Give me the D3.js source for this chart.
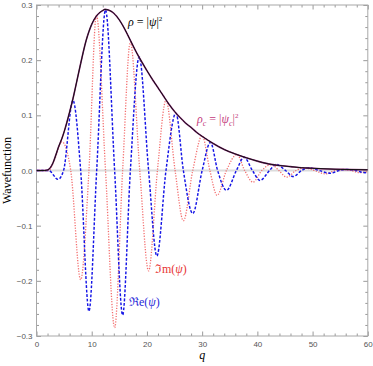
<!DOCTYPE html>
<html><head><meta charset="utf-8">
<script src="https://cdn.jsdelivr.net/npm/d3@7"></script>
<style>body{margin:0;background:#fff}</style>
</head><body>
<svg id="c" width="373" height="366"></svg>
<script>
// ---- data ----
const rhoQ = [0,1.5,2,2.5,3,3.5,4,4.6,5,6,6.6,7,8,9,9.5,10,11,12,12.4,13,14,15,16,17,18,19,20,21,22,23,24,25,26,27,28,29,30,32,34,36,38,40,42,44,46,48,50,55,60];
const rhoV = [0,0,0.001,0.005,0.014,0.028,0.043,0.058,0.07,0.106,0.13,0.148,0.194,0.236,0.252,0.265,0.282,0.290,0.292,0.291,0.285,0.273,0.256,0.236,0.216,0.198,0.181,0.165,0.150,0.135,0.120,0.107,0.096,0.086,0.078,0.069,0.062,0.049,0.038,0.030,0.023,0.017,0.012,0.009,0.007,0.005,0.004,0.002,0.0013];
const rhoCV = [0,0,0.001,0.005,0.014,0.028,0.043,0.058,0.07,0.106,0.13,0.148,0.194,0.236,0.252,0.265,0.282,0.290,0.292,0.291,0.285,0.273,0.256,0.236,0.216,0.198,0.181,0.165,0.150,0.135,0.120,0.107,0.096,0.086,0.078,0.069,0.062,0.049,0.038,0.030,0.023,0.017,0.012,0.009,0.007,0.005,0.004,0.002,0.0013];

const reQ = [0,2.2,3.9,4.9,6.6,8.0,9.5,10.9,12.5,14.15,15.6,17.0,18.6,20.3,21.8,23.45,25.25,26.6,28.3,30.0,31.5,32.8,34.4,36.2,37.6,39.1,40.5,42.2,43.4,45.1,46.5,48.0,49.3,51.2,53.2,54.8,56.2,57.8,59.5,60];
const reV = [0,0,-0.016,0,0.127,0,-0.255,0,0.291,0,-0.262,0,0.206,0,-0.155,0,0.104,0,-0.078,0,0.051,0,-0.036,0,0.024,0,-0.018,0,0.011,0,-0.011,0,0.005,0,-0.005,0,0.002,0,-0.004,-0.003];

const imQ = [0,2.2,3.2,4.6,6.2,8.0,9.5,10.85,12.5,14.15,15.6,17.0,18.7,20.3,21.9,23.45,25.1,26.6,28.3,30.0,31.4,32.7,34.4,36.3,37.7,39.2,40.8,42.5,43.9,45.3,47.0,48.5,50.3,52.3,54.0,55.5,57.0,58.5,60];
const imV = [0,0,0.018,0.052,0,-0.198,0,0.282,0,-0.285,0,0.233,0,-0.182,0,0.127,0,-0.091,0,0.063,0,-0.045,0,0.029,0,-0.021,0,0.011,0,-0.012,0,0.005,0,-0.006,0,0.002,0,-0.004,-0.002];

const xMajor = [0,10,20,30,40,50,60];
const yMajor = [-0.3,-0.2,-0.1,0,0.1,0.2,0.3];
const xMinor = [2,4,6,8,12,14,16,18,22,24,26,28,32,34,36,38,42,44,46,48,52,54,56,58];
const yMinor = [-0.28,-0.26,-0.24,-0.22,-0.18,-0.16,-0.14,-0.12,-0.08,-0.06,-0.04,-0.02,0.02,0.04,0.06,0.08,0.12,0.14,0.16,0.18,0.22,0.24,0.26,0.28];

// ---- drawing ----
const svg = d3.select("#c");
const x = d3.scaleLinear().domain([0,60]).range([36.5,367.8]);
const y = d3.scaleLinear().domain([-0.3,0.3]).range([336,5]);
const [x0,x1] = x.range(); const [y0,y1] = [y(0.3), y(-0.3)];

svg.append("defs").append("clipPath").attr("id","clip")
  .append("rect").attr("x",x0).attr("y",y0).attr("width",x1-x0).attr("height",y1-y0);

// zero line
svg.append("line").attr("x1",x0).attr("x2",x1).attr("y1",y(0)).attr("y2",y(0))
  .attr("stroke","#dcdcdc").attr("stroke-width",2);

// axes
const tickCol = "#9a9a9a";
function styleAxis(g){ g.select(".domain").remove(); g.selectAll("line").attr("stroke",tickCol);
  g.selectAll("text").attr("fill","#555").style("font-family","Liberation Sans, Arial, sans-serif").style("font-size","8px"); }
const fmtY = d3.format(".1f");
svg.append("g").attr("transform",`translate(0,${y1})`).call(d3.axisBottom(x).tickValues(xMajor).tickSize(-4.5).tickPadding(5).tickFormat(d3.format("d"))).call(styleAxis);
svg.append("g").attr("transform",`translate(0,${y1})`).call(d3.axisBottom(x).tickValues(xMinor).tickSize(-2.5).tickFormat("")).call(styleAxis);
svg.append("g").attr("transform",`translate(0,${y0})`).call(d3.axisTop(x).tickValues(xMajor).tickSize(-4.5).tickFormat("")).call(styleAxis);
svg.append("g").attr("transform",`translate(0,${y0})`).call(d3.axisTop(x).tickValues(xMinor).tickSize(-2.5).tickFormat("")).call(styleAxis);
svg.append("g").attr("transform",`translate(${x0},0)`).call(d3.axisLeft(y).tickValues(yMajor).tickSize(-4.5).tickPadding(4).tickFormat(fmtY)).call(styleAxis);
svg.append("g").attr("transform",`translate(${x0},0)`).call(d3.axisLeft(y).tickValues(yMinor).tickSize(-2.5).tickFormat("")).call(styleAxis);
svg.append("g").attr("transform",`translate(${x1},0)`).call(d3.axisRight(y).tickValues(yMajor).tickSize(-4.5).tickFormat("")).call(styleAxis);
svg.append("g").attr("transform",`translate(${x1},0)`).call(d3.axisRight(y).tickValues(yMinor).tickSize(-2.5).tickFormat("")).call(styleAxis);

// frame
svg.append("rect").attr("x",x0).attr("y",y0).attr("width",x1-x0).attr("height",y1-y0)
  .attr("fill","none").attr("stroke","#a8a8a8").attr("stroke-width",1);

// curves
const line = d3.line().x(d=>x(d[0])).y(d=>y(d[1])).curve(d3.curveMonotoneX);
const plot = svg.append("g").attr("clip-path","url(#clip)");
plot.append("path").datum(d3.zip(imQ,imV)).attr("d",line).attr("fill","none")
  .attr("stroke","#f04848").attr("stroke-opacity",0.8).attr("stroke-width",1.3).attr("stroke-dasharray","1.2,1.5");
plot.append("path").datum(d3.zip(reQ,reV)).attr("d",line).attr("fill","none")
  .attr("stroke","#1414e6").attr("stroke-width",1.45).attr("stroke-dasharray","2.8,1.7");
plot.append("path").datum(d3.zip(rhoQ,rhoCV)).attr("d",line).attr("fill","none")
  .attr("stroke","#8a2a78").attr("stroke-width",1.6);
plot.append("path").datum(d3.zip(rhoQ,rhoV)).attr("d",line).attr("fill","none")
  .attr("stroke","#111").attr("stroke-width",1.0);

// labels
const serif = "Liberation Serif, Times New Roman, DejaVu Serif, serif";
function label(px,py,col,parts){
  const t = svg.append("text").attr("x",px).attr("y",py).attr("fill",col)
    .style("font-family",serif).style("font-size","12px");
  parts.forEach(p=>{
    const s = t.append("tspan").text(p.t);
    if(p.i) s.style("font-style","italic");
    if(p.sup) s.attr("dy",-5).style("font-size","7px");
    if(p.sub) s.attr("dy",3).style("font-size","8px");
    if(p.back) s.attr("dy",p.back);
  });
  return t;
}
label(128,26,"#000",[{t:"ρ",i:1},{t:" = |"},{t:"ψ",i:1},{t:"|"},{t:"2",sup:1}]);
label(197,123,"#c43a7c",[{t:"ρ",i:1},{t:"c",i:1,sub:1},{t:" = |",back:-3},{t:"ψ",i:1},{t:"c",i:1,sub:1},{t:"|",back:-3},{t:"2",sup:1}]);
label(155,273,"#e83434",[{t:"ℑm("},{t:"ψ",i:1},{t:")"}]);
label(129,306,"#2a2ad8",[{t:"ℜe("},{t:"ψ",i:1},{t:")"}]);

svg.append("text").attr("transform",`translate(11,${y(0)}) rotate(-90)`).attr("text-anchor","middle")
  .style("font-family",serif).style("font-size","12px").text("Wavefunction");
svg.append("text").attr("x",x(30)).attr("y",359).attr("text-anchor","middle")
  .style("font-family",serif).style("font-size","12px").style("font-style","italic").text("q");
</script>
</body></html>
